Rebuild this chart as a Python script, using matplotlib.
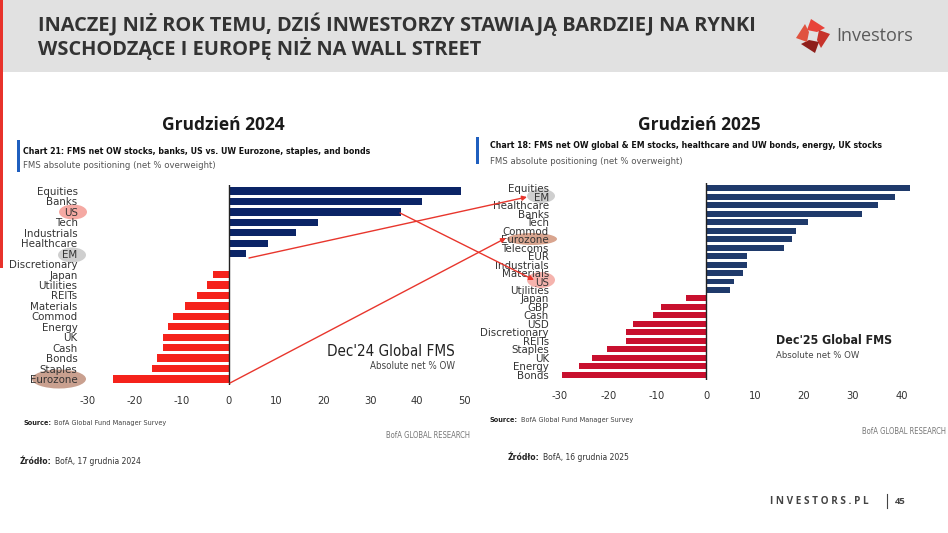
import matplotlib
matplotlib.use("Agg")
import matplotlib.pyplot as plt
from matplotlib.patches import Rectangle, Ellipse, Polygon
from matplotlib.lines import Line2D

# Data
cats_2024 = ["Equities", "Banks", "US", "Tech", "Industrials", "Healthcare", "EM",
             "Discretionary", "Japan", "Utilities", "REITs", "Materials", "Commod",
             "Energy", "UK", "Cash", "Bonds", "Staples", "Eurozone"]
vals_2024 = [49.4, 41.1, 36.5, 18.9, 14.2, 8.3, 3.6,
             0.0, -3.5, -4.7, -6.9, -9.4, -11.8,
             -12.9, -14.0, -14.0, -15.2, -16.4, -24.6]

cats_2025 = ["Equities", "EM", "Healthcare", "Banks", "Tech", "Commod", "Eurozone",
             "Telecoms", "EUR", "Industrials", "Materials", "US", "Utilities",
             "Japan", "GBP", "Cash", "USD", "Discretionary", "REITs", "Staples",
             "UK", "Energy", "Bonds"]
vals_2025 = [41.8, 38.6, 35.2, 31.8, 20.9, 18.4, 17.6,
             15.9, 8.3, 8.3, 7.5, 5.8, 5.0,
             -4.1, -9.2, -10.8, -15.0, -16.4, -16.4, -20.2,
             -23.4, -25.9, -29.4]

ticks_2024 = [-30, -20, -10, 0, 10, 20, 30, 40, 50]
ticks_2025 = [-30, -20, -10, 0, 10, 20, 30, 40]

W, H = 948, 533
COND = "DejaVu Sans"
HEAD = ["Open Sans", "DejaVu Sans"]


def fx(x):
    return x / W


def fy(y):
    return 1 - y / H


fig = plt.figure(figsize=(W / 100, H / 100), dpi=100)
fig.patch.set_facecolor("white")


def txt(x, y, s, **kw):
    kw.setdefault("family", COND)
    if kw["family"] == COND:
        kw.setdefault("fontstretch", "condensed")
    kw.setdefault("va", "center")
    return fig.text(fx(x), fy(y), s, **kw)


def follow(prev, s, **kw):
    # place a text right after another one on the same line
    kw.setdefault("family", COND)
    kw.setdefault("fontstretch", "condensed")
    return fig.add_artist(plt.Annotation(s, xy=(1, 0.5), xycoords=prev,
                                         xytext=(2, 0), textcoords="offset points",
                                         va="center", **kw))


def rect(x0, y0, x1, y1, color, z=-2):
    fig.patches.append(Rectangle((fx(x0), fy(y1)), fx(x1) - fx(x0), fy(y0) - fy(y1),
                                 transform=fig.transFigure, facecolor=color,
                                 edgecolor="none", zorder=z))


def oval(x, y, w, h, color):
    fig.patches.append(Ellipse((fx(x), fy(y)), w / W, h / H,
                               transform=fig.transFigure, facecolor=color,
                               edgecolor="none", zorder=-1))


# Header band and side bar
rect(0, 0, W, 72, "#e1e1e1")
rect(0, 0, 3, 268, "#e8322b")
txt(38, 24, "INACZEJ NIŻ ROK TEMU, DZIŚ INWESTORZY STAWIAJĄ BARDZIEJ NA RYNKI",
    family=HEAD, fontsize=14.4, fontweight="bold", color="#333333")
txt(38, 48, "WSCHODZĄCE I EUROPĘ NIŻ NA WALL STREET",
    family=HEAD, fontsize=14.4, fontweight="bold", color="#333333")

# Logo: four blades around a hollow centre
cx, cy = 813, 36
blades = [
    [(cx - 2, cy - 17), (cx + 12, cy - 8), (cx + 4, cy - 4), (cx - 6, cy - 6)],
    [(cx + 17, cy - 2), (cx + 8, cy + 12), (cx + 4, cy + 4), (cx + 6, cy - 6)],
    [(cx + 2, cy + 17), (cx - 12, cy + 8), (cx - 4, cy + 4), (cx + 6, cy + 6)],
    [(cx - 17, cy + 2), (cx - 8, cy - 12), (cx - 4, cy - 4), (cx - 6, cy + 6)],
]
logo_cols = ["#e8433a", "#c7332b", "#8e1f1b", "#e0533f"]
for pts, col in zip(blades, logo_cols):
    fig.patches.append(Polygon([(fx(a), fy(b)) for a, b in pts], closed=True,
                               transform=fig.transFigure, facecolor=col,
                               edgecolor="none", zorder=2))
txt(836, 36, "Investors", family=HEAD, fontsize=13, color="#5a5a5a")


def draw_panel(rect_px, cats, vals, ticks, xlim, pos_col, neg_col, tick_pad):
    x0, y0, x1, y1 = rect_px
    ax = fig.add_axes([fx(x0), fy(y1), fx(x1) - fx(x0), fy(y0) - fy(y1)])
    ax.set_facecolor("none")
    ypos = list(range(len(cats)))
    colors = [pos_col if v >= 0 else neg_col for v in vals]
    ax.barh(ypos, vals, height=0.7, color=colors, zorder=2)
    ax.axvline(0, color="#222222", linewidth=1.0, zorder=3)
    ax.set_xlim(*xlim)
    ax.set_ylim(len(cats) - 0.4, -0.6)
    ax.set_yticks(ypos)
    ax.set_yticklabels(cats, family=COND, fontstretch="condensed", fontsize=8.2,
                       color="#333333")
    ax.set_xticks(ticks)
    ax.set_xticklabels([str(t) for t in ticks], family=COND,
                       fontstretch="condensed", fontsize=8, color="#333333")
    ax.tick_params(axis="both", length=0)
    ax.tick_params(axis="x", pad=tick_pad)
    ax.tick_params(axis="y", pad=4)
    for s in ax.spines.values():
        s.set_visible(False)
    return ax


# Left panel: December 2024
txt(223, 125, "Grudzień 2024", family=HEAD, fontsize=12.5, fontweight="bold",
    color="#1a1a1a", ha="center")
rect(17, 140, 20, 172, "#1f5fbf")
txt(23, 151, "Chart 21: FMS net OW stocks, banks, US vs. UW Eurozone, staples, and bonds",
    fontsize=6.3, fontweight="bold", color="#111111")
txt(23, 166, "FMS absolute positioning (net % overweight)", fontsize=6.8, color="#555555")
draw_panel((83.1, 184.7, 469.0, 385.3), cats_2024, vals_2024, ticks_2024,
           (-31, 51), "#0b2466", "#f5221b", 8)
oval(73, 212, 28, 15, "#f5a9a3")
oval(72, 255, 28, 15, "#cfcfcf")
oval(59, 379, 54, 19, "#c9a08f")
txt(455, 351, "Dec'24 Global FMS", fontsize=10.9, color="#222222", ha="right")
txt(455, 366, "Absolute net % OW", fontsize=7, color="#444444", ha="right")
t = txt(23, 423, "Source:", fontsize=5.2, fontweight="bold", color="#222222")
follow(t, "BofA Global Fund Manager Survey", fontsize=5.2, color="#444444")
txt(470, 436, "BofA GLOBAL RESEARCH", fontsize=5.5, color="#777777", ha="right")
t = txt(20, 461, "Źródło:", fontsize=6.1, fontweight="bold", color="#222222")
follow(t, "BofA, 17 grudnia 2024", fontsize=6.1, color="#333333")

# Right panel: December 2025
txt(699, 125, "Grudzień 2025", family=HEAD, fontsize=12.5, fontweight="bold",
    color="#1a1a1a", ha="center")
rect(476, 137, 479, 164, "#1f5fbf")
txt(490, 146, "Chart 18: FMS net OW global & EM stocks, healthcare and UW bonds, energy, UK stocks",
    fontsize=6.35, fontweight="bold", color="#111111")
txt(490, 161, "FMS absolute positioning (net % overweight)", fontsize=6.8, color="#555555")
draw_panel((554.4, 183.2, 916.3, 379.8), cats_2025, vals_2025, ticks_2025,
           (-31, 43), "#1f3a6b", "#c8102e", 8)
oval(541, 196, 28, 14, "#cfcfcf")
oval(532, 239, 50, 12, "#d9a58f")
oval(541, 280, 28, 16, "#f5b3ad")
txt(776, 341, "Dec'25 Global FMS", fontsize=8.9, fontweight="bold", color="#222222")
txt(776, 356, "Absolute net % OW", fontsize=6.8, color="#444444")
t = txt(490, 420, "Source:", fontsize=5.2, fontweight="bold", color="#222222")
follow(t, "BofA Global Fund Manager Survey", fontsize=5.2, color="#444444")
txt(946, 432, "BofA GLOBAL RESEARCH", fontsize=5.5, color="#777777", ha="right")
t = txt(508, 458, "Źródło:", fontsize=6.1, fontweight="bold", color="#222222")
follow(t, "BofA, 16 grudnia 2025", fontsize=6.1, color="#333333")

# Red connector arrows from 2024 bars to 2025 labels
arrows = [((249, 258), (527, 197)),
          ((400, 213), (534, 280)),
          ((230, 383), (506, 238))]
for (sx, sy), (ex, ey) in arrows:
    fig.add_artist(plt.Annotation("", xy=(fx(ex), fy(ey)), xytext=(fx(sx), fy(sy)),
                                  xycoords="figure fraction",
                                  textcoords="figure fraction",
                                  arrowprops=dict(arrowstyle="-|>", color="#e8362d",
                                                  lw=1.0, mutation_scale=7,
                                                  shrinkA=0, shrinkB=0)))

# Footer
txt(770, 501, "I N V E S T O R S . P L", family=HEAD, fontsize=7.2,
    fontweight="bold", color="#444444")
fig.add_artist(Line2D([fx(887), fx(887)], [fy(494), fy(508)],
                      transform=fig.transFigure, color="#444444", lw=0.8))
txt(895, 501, "45", family=HEAD, fontsize=6.8, fontweight="bold", color="#444444")

fig.savefig("out.png", dpi=100)
